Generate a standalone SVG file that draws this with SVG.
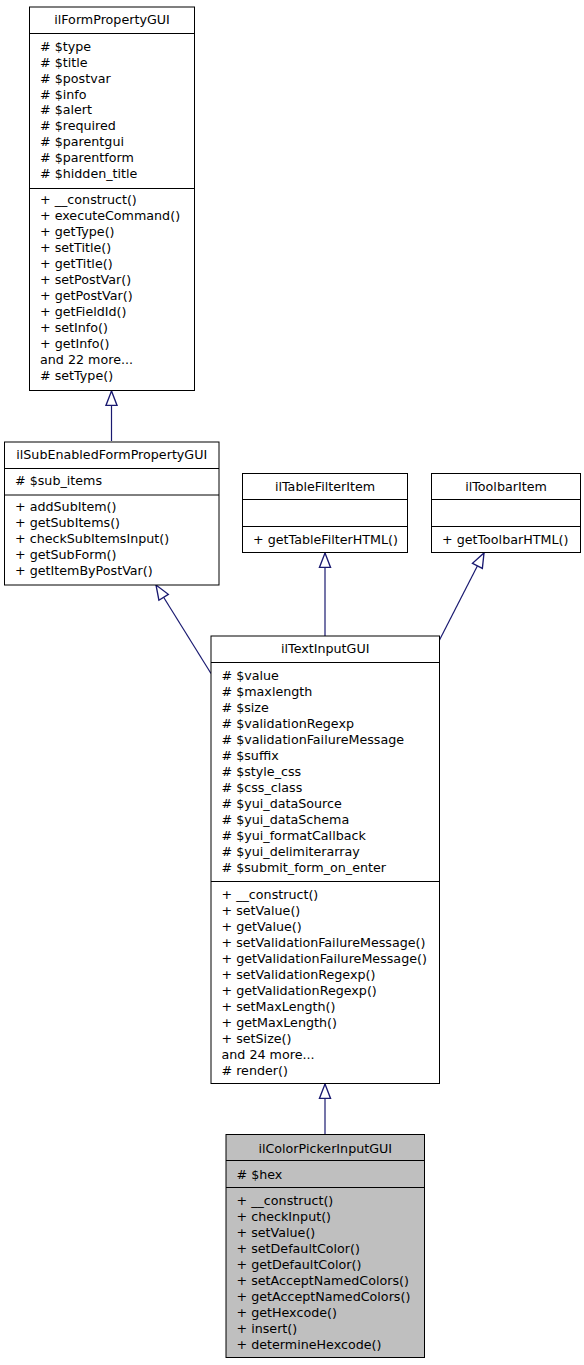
<svg xmlns="http://www.w3.org/2000/svg" width="584" height="1365" viewBox="0 0 584 1365">
<style>
rect.box{fill:#ffffff;stroke:#000000;stroke-width:1}
rect.cur{fill:#bfbfbf;stroke:#000000;stroke-width:1}
line.div{stroke:#000000;stroke-width:1}
text{font-family:"DejaVu Sans","Bitstream Vera Sans","Liberation Sans",sans-serif;font-size:12.7px;fill:#000000}
text.t{text-anchor:middle}
.edge{fill:none;stroke:#191970;stroke-width:1.2}
</style>
<defs>
<marker id="inh" markerUnits="userSpaceOnUse" markerWidth="20" markerHeight="20" refX="0" refY="0" orient="auto" overflow="visible" viewBox="-2 -8 18 16">
<path d="M0,0 L13,-5 L13,5 Z" fill="#ffffff" stroke="#191970" stroke-width="1.2"/>
</marker>
</defs>
<rect width="584" height="1365" fill="#ffffff"/>
<g id="connectors">
<path class="edge" d="M111.5,391 L111.5,441" marker-start="url(#inh)"/>
<path class="edge" d="M156,585 L211,673.5" marker-start="url(#inh)"/>
<path class="edge" d="M325,553 L325,636" marker-start="url(#inh)"/>
<path class="edge" d="M484,553 L439.5,640" marker-start="url(#inh)"/>
<path class="edge" d="M325,1084 L325,1134.5" marker-start="url(#inh)"/>
</g>
<g id="ilFormPropertyGUI">
<rect class="box" x="29.5" y="7" width="165" height="383.5"/>
<line class="div" x1="29.5" y1="33.5" x2="194.5" y2="33.5"/>
<line class="div" x1="29.5" y1="188.5" x2="194.5" y2="188.5"/>
<text class="t" x="112" y="24.3">ilFormPropertyGUI</text>
<text x="40" y="51">
<tspan x="40" y="51"># $type</tspan>
<tspan x="40" y="66.85"># $title</tspan>
<tspan x="40" y="82.7"># $postvar</tspan>
<tspan x="40" y="98.55"># $info</tspan>
<tspan x="40" y="114.4"># $alert</tspan>
<tspan x="40" y="130.25"># $required</tspan>
<tspan x="40" y="146.1"># $parentgui</tspan>
<tspan x="40" y="161.95"># $parentform</tspan>
<tspan x="40" y="177.8"># $hidden_title</tspan>
</text>
<text x="40" y="204.3">
<tspan x="40" y="204.3">+ __construct()</tspan>
<tspan x="40" y="220.3">+ executeCommand()</tspan>
<tspan x="40" y="236.3">+ getType()</tspan>
<tspan x="40" y="252.3">+ setTitle()</tspan>
<tspan x="40" y="268.3">+ getTitle()</tspan>
<tspan x="40" y="284.3">+ setPostVar()</tspan>
<tspan x="40" y="300.3">+ getPostVar()</tspan>
<tspan x="40" y="316.3">+ getFieldId()</tspan>
<tspan x="40" y="332.3">+ setInfo()</tspan>
<tspan x="40" y="348.3">+ getInfo()</tspan>
<tspan x="40" y="364.3">and 22 more...</tspan>
<tspan x="40" y="380.3"># setType()</tspan>
</text>
</g>
<g id="ilSubEnabledFormPropertyGUI">
<rect class="box" x="4.5" y="442" width="214.5" height="143"/>
<line class="div" x1="4.5" y1="468.5" x2="219" y2="468.5"/>
<line class="div" x1="4.5" y1="495" x2="219" y2="495"/>
<text class="t" x="111.75" y="459.3">ilSubEnabledFormPropertyGUI</text>
<text x="15" y="485">#&#160;$sub_items</text>
<text x="15" y="511.3">
<tspan x="15" y="511.3">+ addSubItem()</tspan>
<tspan x="15" y="527.3">+ getSubItems()</tspan>
<tspan x="15" y="543.3">+ checkSubItemsInput()</tspan>
<tspan x="15" y="559.3">+ getSubForm()</tspan>
<tspan x="15" y="575.3">+ getItemByPostVar()</tspan>
</text>
</g>
<g id="ilTableFilterItem">
<rect class="box" x="242.5" y="473.5" width="165" height="79"/>
<line class="div" x1="242.5" y1="499.5" x2="407.5" y2="499.5"/>
<line class="div" x1="242.5" y1="526.5" x2="407.5" y2="526.5"/>
<text class="t" x="325" y="491">ilTableFilterItem</text>
<text x="253" y="544.3">+ getTableFilterHTML()</text>
</g>
<g id="ilToolbarItem">
<rect class="box" x="431.5" y="473.5" width="149" height="79"/>
<line class="div" x1="431.5" y1="499.5" x2="580.5" y2="499.5"/>
<line class="div" x1="431.5" y1="526.5" x2="580.5" y2="526.5"/>
<text class="t" x="506" y="491">ilToolbarItem</text>
<text x="442" y="544.3">+ getToolbarHTML()</text>
</g>
<g id="ilTextInputGUI">
<rect class="box" x="211" y="636" width="228.5" height="447.5"/>
<line class="div" x1="211" y1="662.5" x2="439.5" y2="662.5"/>
<line class="div" x1="211" y1="881.5" x2="439.5" y2="881.5"/>
<text class="t" x="325.25" y="653.3">ilTextInputGUI</text>
<text x="221.5" y="680">
<tspan x="221.5" y="680"># $value</tspan>
<tspan x="221.5" y="696"># $maxlength</tspan>
<tspan x="221.5" y="712"># $size</tspan>
<tspan x="221.5" y="728"># $validationRegexp</tspan>
<tspan x="221.5" y="744"># $validationFailureMessage</tspan>
<tspan x="221.5" y="760"># $suffix</tspan>
<tspan x="221.5" y="776"># $style_css</tspan>
<tspan x="221.5" y="792"># $css_class</tspan>
<tspan x="221.5" y="808"># $yui_dataSource</tspan>
<tspan x="221.5" y="824"># $yui_dataSchema</tspan>
<tspan x="221.5" y="840"># $yui_formatCallback</tspan>
<tspan x="221.5" y="856"># $yui_delimiterarray</tspan>
<tspan x="221.5" y="872"># $submit_form_on_enter</tspan>
</text>
<text x="221.5" y="898.6">
<tspan x="221.5" y="898.6">+ __construct()</tspan>
<tspan x="221.5" y="914.6">+ setValue()</tspan>
<tspan x="221.5" y="930.6">+ getValue()</tspan>
<tspan x="221.5" y="946.6">+ setValidationFailureMessage()</tspan>
<tspan x="221.5" y="962.6">+ getValidationFailureMessage()</tspan>
<tspan x="221.5" y="978.6">+ setValidationRegexp()</tspan>
<tspan x="221.5" y="994.6">+ getValidationRegexp()</tspan>
<tspan x="221.5" y="1010.6">+ setMaxLength()</tspan>
<tspan x="221.5" y="1026.6">+ getMaxLength()</tspan>
<tspan x="221.5" y="1042.6">+ setSize()</tspan>
<tspan x="221.5" y="1058.6">and 24 more...</tspan>
<tspan x="221.5" y="1074.6"># render()</tspan>
</text>
</g>
<g id="ilColorPickerInputGUI">
<rect class="cur" x="226" y="1134.5" width="198.5" height="223"/>
<line class="div" x1="226" y1="1160.5" x2="424.5" y2="1160.5"/>
<line class="div" x1="226" y1="1187.5" x2="424.5" y2="1187.5"/>
<text class="t" x="325.25" y="1152.6">ilColorPickerInputGUI</text>
<text x="236.5" y="1179.3"># $hex</text>
<text x="236.5" y="1205">
<tspan x="236.5" y="1205">+ __construct()</tspan>
<tspan x="236.5" y="1221">+ checkInput()</tspan>
<tspan x="236.5" y="1237">+ setValue()</tspan>
<tspan x="236.5" y="1253">+ setDefaultColor()</tspan>
<tspan x="236.5" y="1269">+ getDefaultColor()</tspan>
<tspan x="236.5" y="1285">+ setAcceptNamedColors()</tspan>
<tspan x="236.5" y="1301">+ getAcceptNamedColors()</tspan>
<tspan x="236.5" y="1317">+ getHexcode()</tspan>
<tspan x="236.5" y="1333">+ insert()</tspan>
<tspan x="236.5" y="1349">+ determineHexcode()</tspan>
</text>
</g>
</svg>
